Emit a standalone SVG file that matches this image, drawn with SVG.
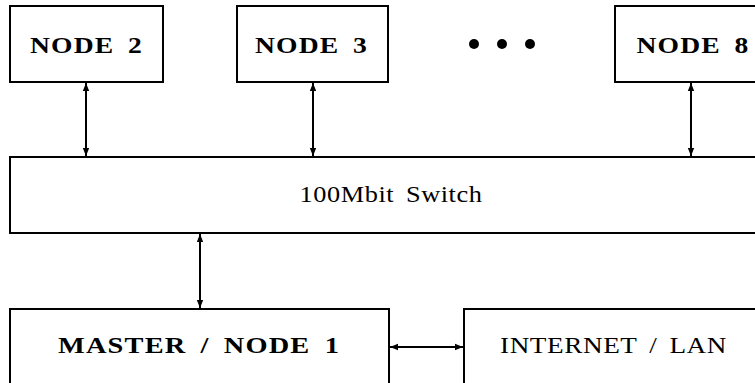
<svg xmlns="http://www.w3.org/2000/svg" width="755" height="383" viewBox="0 0 755 383">
<defs>
<marker id="ah" viewBox="0 0 10 10" refX="10" refY="5" markerWidth="4" markerHeight="4" orient="auto-start-reverse" markerUnits="strokeWidth">
<path d="M0,1 L10,5 L0,9 z" fill="#000"/>
</marker>
</defs>
<style>
.box{fill:#fff;stroke:#000;stroke-width:2}
.b{font-family:"Liberation Serif",serif;font-weight:bold;font-size:24px;text-anchor:middle;fill:#000;word-spacing:5px;letter-spacing:1px}
.r{font-family:"Liberation Serif",serif;font-size:23px;text-anchor:middle;fill:#000;word-spacing:4px;letter-spacing:0.5px}
.c{stroke:#000;stroke-width:2;fill:none;marker-start:url(#ah);marker-end:url(#ah)}
</style>
<rect width="755" height="383" fill="#fff"/>
<g id="connectors">
<line class="c" x1="86" y1="83" x2="86" y2="156"/>
<line class="c" x1="313" y1="83" x2="313" y2="156"/>
<line class="c" x1="691" y1="83" x2="691" y2="156"/>
<line class="c" x1="200" y1="234" x2="200" y2="308"/>
<line class="c" x1="390" y1="347" x2="463" y2="347"/>
</g>
<g id="node2">
<rect class="box" x="10" y="6" width="153" height="76"/>
<text class="b" x="86.5" y="53" textLength="113" lengthAdjust="spacingAndGlyphs">NODE 2</text>
</g>
<g id="node3">
<rect class="box" x="237" y="6" width="151" height="76"/>
<text class="b" x="311.5" y="53" textLength="113" lengthAdjust="spacingAndGlyphs">NODE 3</text>
</g>
<g id="dots">
<circle cx="474" cy="44" r="5"/>
<circle cx="502" cy="44" r="5"/>
<circle cx="530" cy="44" r="5"/>
</g>
<g id="node8">
<rect class="box" x="615" y="6" width="150" height="76"/>
<text class="b" x="693" y="53" textLength="113" lengthAdjust="spacingAndGlyphs">NODE 8</text>
</g>
<g id="switch">
<rect class="box" x="10" y="157" width="760" height="76"/>
<text class="r" x="391" y="202" textLength="183" lengthAdjust="spacingAndGlyphs">100Mbit Switch</text>
</g>
<g id="master">
<rect class="box" x="10" y="309" width="379" height="90"/>
<text class="b" x="199" y="353" textLength="282" lengthAdjust="spacingAndGlyphs">MASTER / NODE 1</text>
</g>
<g id="internet">
<rect class="box" x="464" y="309" width="310" height="90"/>
<text class="r" x="613.5" y="353" textLength="227" lengthAdjust="spacingAndGlyphs">INTERNET / LAN</text>
</g>
</svg>
